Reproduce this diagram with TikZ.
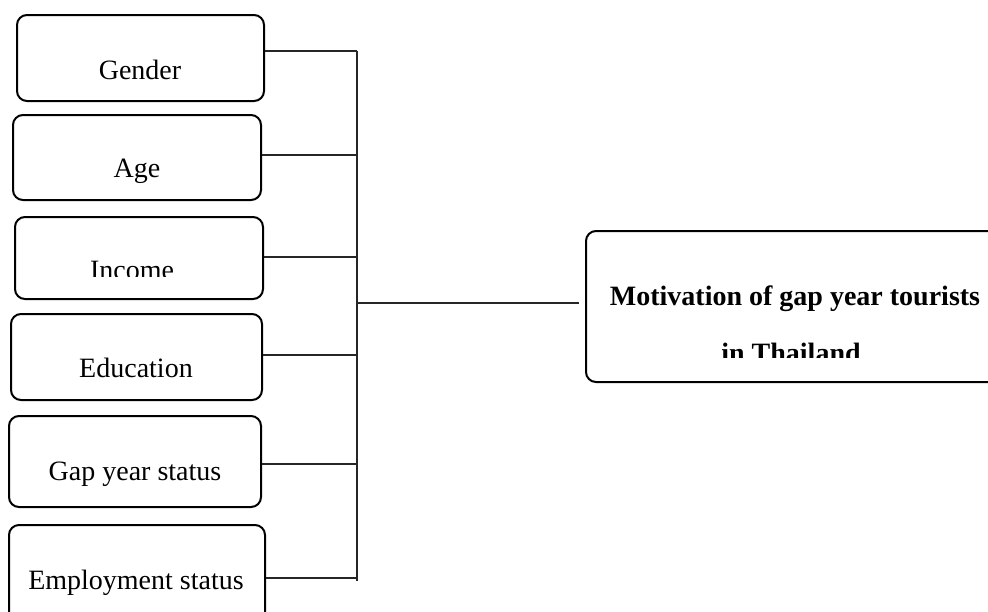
\documentclass[tikz,border=0pt]{standalone}
\usepackage{fontspec}
\setmainfont{Liberation Serif}
\begin{document}
\begin{tikzpicture}[x=0.5pt,y=-0.5pt,
  factor/.style={draw, line width=1pt, rounded corners=5pt, inner sep=0pt},
  label/.style={anchor=base, inner sep=0pt, font=\fontsize{14}{16}\selectfont},
  wire/.style={line width=0.6pt, draw=black!85}]
\useasboundingbox (0,0) rectangle (988,611);

% factor boxes on the left
\node[factor, minimum width=123.5pt, minimum height=43pt]   (gender) at (140.5,58) {};
\node[factor, minimum width=124pt,   minimum height=42.5pt] (age)    at (137,157.5) {};
\node[factor, minimum width=124pt,   minimum height=41pt]   (income) at (139,258) {};
\node[factor, minimum width=125.5pt, minimum height=43pt]   (edu)    at (136.5,357) {};
\node[factor, minimum width=126pt,   minimum height=45.5pt] (gap)    at (135,461.5) {};
\node[factor, minimum width=128pt,   minimum height=50pt]   (emp)    at (137,575) {};

% outcome box on the right
\node[factor, minimum width=207pt, minimum height=75.5pt] (main) at (793,306.5) {};

% labels
\node[label] (tgender) at (140,79) {Gender};
\begin{scope}
  \clip (0,100) rectangle (300,183);
  \node[label] (tage) at (137,177) {Age};
\end{scope}
\begin{scope}
  \clip (0,200) rectangle (300,276);
  \node[label] (tincome) at (132,279) {Income};
\end{scope}
\node[label] (tedu) at (136,377.5) {Education};
\node[label] (tgap) at (135,480.5) {Gap year status};
\node[label] (temp) at (136,589) {Employment status};
\node[label, font=\fontsize{14}{16}\selectfont\bfseries] (tmain1) at (795,305) {Motivation of gap year tourists};
\begin{scope}
  \clip (600,320) rectangle (988,357);
  \node[label, font=\fontsize{14}{16}\selectfont\bfseries] (tmain2) at (791,362) {in Thailand};
\end{scope}

% bus line joining the factors
\coordinate (b1) at (357,51);
\coordinate (b2) at (357,155);
\coordinate (b3) at (357,257);
\coordinate (b4) at (357,355);
\coordinate (b5) at (357,464);
\coordinate (b6) at (357,578);
\coordinate (btop) at (357,51);
\coordinate (bbot) at (357,581);
\coordinate (hub) at (357,303);

\draw[wire] (btop) -- (bbot);
\draw[wire] (gender.east |- b1) -- (b1);
\draw[wire] (age.east |- b2) -- (b2);
\draw[wire] (income.east |- b3) -- (b3);
\draw[wire] (edu.east |- b4) -- (b4);
\draw[wire] (gap.east |- b5) -- (b5);
\draw[wire] (emp.east |- b6) -- (b6);
\draw[wire] (hub) -- ([xshift=-3pt]main.west |- hub);
\end{tikzpicture}
\end{document}
